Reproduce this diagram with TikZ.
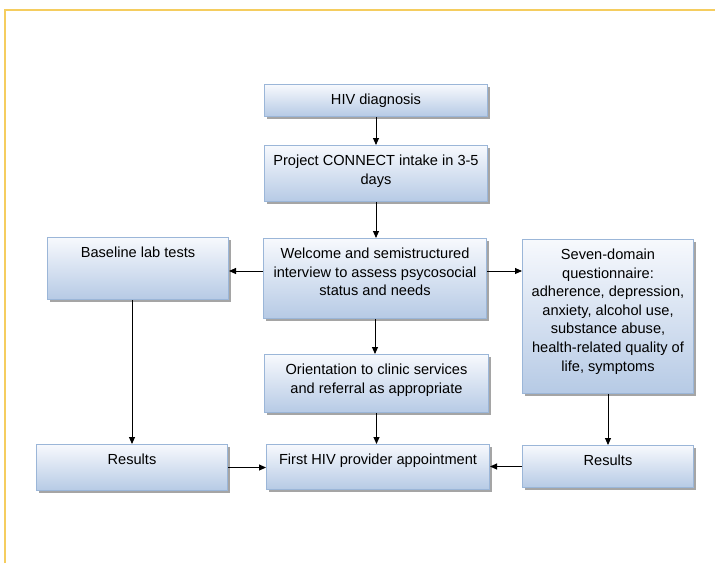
\documentclass[tikz,border=0pt]{standalone}
\usepackage{fontspec}
\setmainfont{Liberation Sans}
\usetikzlibrary{arrows.meta,shadows}
\definecolor{frameyel}{RGB}{245,205,95}
\definecolor{boxtop}{RGB}{247,249,253}
\definecolor{boxbot}{RGB}{182,202,229}
\definecolor{boxline}{RGB}{155,182,216}
\newcommand\boxtxt[3]{\parbox[c][#2pt][t]{#1pt}{\centering\rule{0pt}{20pt}#3}}
\begin{document}
\begin{tikzpicture}[x=1pt,y=-1pt,
  box/.style={draw=boxline, line width=1pt, top color=boxtop, bottom color=boxbot,
    inner sep=0pt, anchor=north west, font=\fontsize{14.6}{18.6}\selectfont,
    drop shadow={shadow xshift=2pt, shadow yshift=-2pt, fill=black!70, opacity=0.5}},
  arr/.style={-{Triangle[length=7pt,width=6pt]}, line width=0.9pt, black}]
\useasboundingbox (0,0) rectangle (715,563);
\draw[frameyel, line width=2pt] (5,563) -- (5,10) -- (715,10);

\node[box] (hiv) at (264,84) {\boxtxt{223}{32}{HIV diagnosis}};
\node[box] (proj) at (264,145) {\boxtxt{223}{56}{Project CONNECT intake in 3-5\\days}};
\node[box] (wel) at (263,238) {\boxtxt{223}{80}{Welcome and semistructured\\interview to assess psycosocial\\status and needs}};
\node[box] (bl) at (47,237) {\boxtxt{181}{62}{Baseline lab tests}};
\node[box] (sev) at (522,239) {\boxtxt{171}{154}{Seven-domain\\questionnaire:\\adherence, depression,\\anxiety, alcohol use,\\substance abuse,\\health-related quality of\\life, symptoms}};
\node[box] (ori) at (264,354) {\boxtxt{224}{58}{Orientation to clinic services\\and referral as appropriate}};
\node[box] (first) at (266,444) {\boxtxt{223}{45}{First HIV provider appointment}};
\node[box] (res1) at (36,444) {\boxtxt{191}{46}{Results}};
\node[box] (res2) at (522,445) {\boxtxt{171}{42}{Results}};

\coordinate (lvl) at (0,271);
\draw[arr] (hiv.south) -- (hiv.south |- proj.north);
\draw[arr] (proj.south) -- (proj.south |- wel.north);
\draw[arr] (wel.south) -- (wel.south |- ori.north);
\draw[arr] (ori.south) -- (ori.south |- first.north);
\draw[arr] (wel.west |- lvl) -- (bl.east |- lvl);
\draw[arr] (wel.east |- lvl) -- (sev.west |- lvl);
\draw[arr] (res1.north |- bl.south) -- (res1.north);
\draw[arr] (sev.south) -- (sev.south |- res2.north);
\draw[arr] (res1.east) -- (res1.east -| first.west);
\draw[arr] (res2.west) -- (res2.west -| first.east);
\end{tikzpicture}
\end{document}
